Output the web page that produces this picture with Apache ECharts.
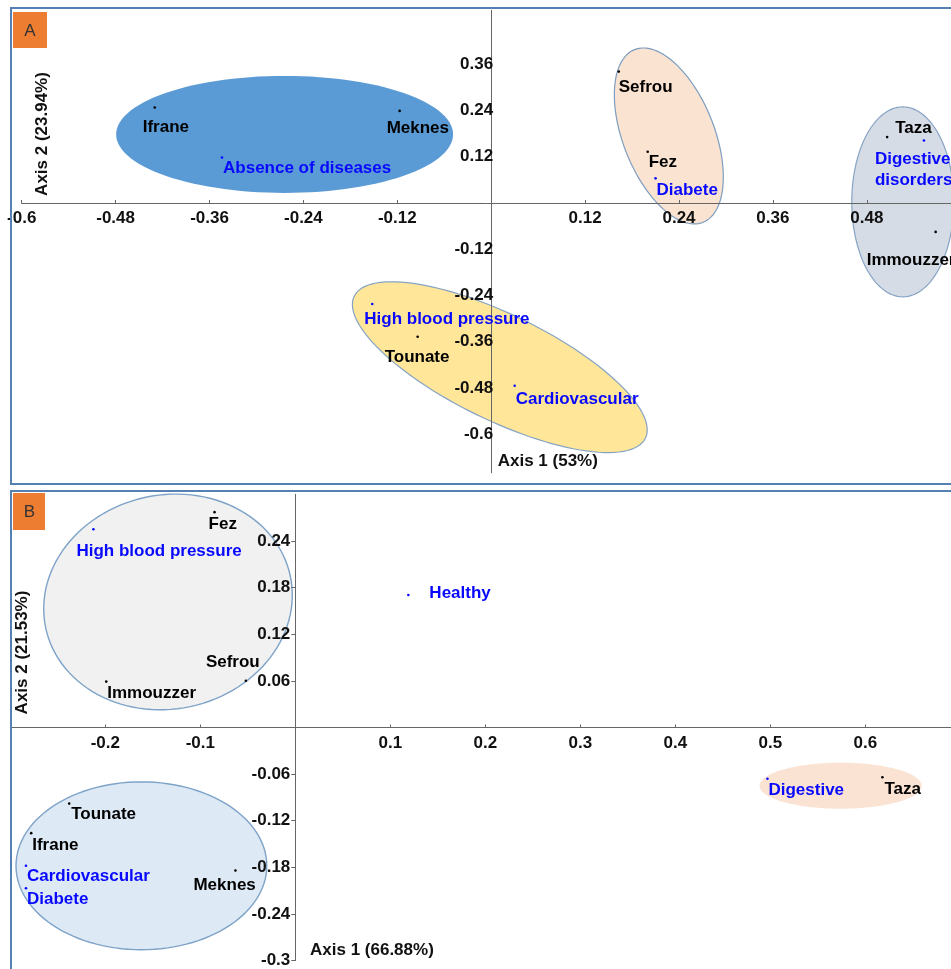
<!DOCTYPE html>
<html>
<head>
<meta charset="utf-8">
<script src="https://cdn.jsdelivr.net/npm/echarts@6/dist/echarts.min.js"></script>
<style>
  html, body { margin: 0; padding: 0; background: #ffffff; }
  #chart { width: 951px; height: 969px; }
</style>
</head>
<body>
<div id="chart"></div>
<script>
// ---------- Panel A : sites and diseases on axes 1 and 2 ----------
const aSiteNames = ['Ifrane', 'Meknes', 'Sefrou', 'Fez', 'Taza', 'Immouzzer', 'Tounate'];
const aSiteAxis1 = [-0.430, -0.117, 0.163, 0.200, 0.506, 0.568, -0.094];
const aSiteAxis2 = [0.248, 0.239, 0.341, 0.133, 0.171, -0.075, -0.347];

const aDiseaseNames = ['Absence of diseases', 'Diabete', 'Digestive\ndisorders', 'High blood pressure', 'Cardiovascular'];
const aDiseaseAxis1 = [-0.344, 0.210, 0.553, -0.152, 0.030];
const aDiseaseAxis2 = [0.118, 0.064, 0.162, -0.262, -0.474];

const aTicksAxis1 = [-0.6, -0.48, -0.36, -0.24, -0.12, 0.12, 0.24, 0.36, 0.48];
const aTicksAxis2 = [-0.6, -0.48, -0.36, -0.24, -0.12, 0.12, 0.24, 0.36];

// groupings: centre, half-extent along axis 1 and axis 2, tilt (degrees)
const aGroupAxis1 = [-0.264, 0.227, 0.526, 0.011];
const aGroupAxis2 = [0.178, 0.174, 0.003, -0.426];
const aGroupRadius1 = [0.2153, 0.0583, 0.0652, 0.207];
const aGroupRadius2 = [0.1518, 0.241, 0.2465, 0.137];
const aGroupTilt = [0, -21.6, 0, 26];

// ---------- Panel B : sites and diseases on axes 1 and 2 ----------
const bSiteNames = ['Fez', 'Sefrou', 'Immouzzer', 'Tounate', 'Ifrane', 'Meknes', 'Taza'];
const bSiteAxis1 = [-0.085, -0.052, -0.199, -0.238, -0.278, -0.063, 0.618];
const bSiteAxis2 = [0.277, 0.060, 0.059, -0.098, -0.136, -0.184, -0.064];

const bDiseaseNames = ['High blood pressure', 'Healthy', 'Cardiovascular', 'Diabete', 'Digestive'];
const bDiseaseAxis1 = [-0.2125, 0.119, -0.2835, -0.2835, 0.497];
const bDiseaseAxis2 = [0.255, 0.1705, -0.178, -0.207, -0.066];

const bTicksAxis1 = [-0.2, -0.1, 0.1, 0.2, 0.3, 0.4, 0.5, 0.6];
const bTicksAxis2 = [-0.3, -0.24, -0.18, -0.12, -0.06, 0.06, 0.12, 0.18, 0.24];

const bGroupAxis1 = [-0.134, -0.162, 0.574];
const bGroupAxis2 = [0.1615, -0.178, -0.075];
const bGroupRadius1 = [0.1316, 0.132, 0.0853];
const bGroupRadius2 = [0.1377, 0.108, 0.0296];
const bGroupTilt = [-12, 0, 0];

// ---------- layout / styling ----------
const FONT = "'Liberation Sans', Arial, sans-serif";
const SITE_COLOR = '#000000';
const DISEASE_COLOR = '#0808ff';
const AXIS_COLOR = '#666666';

// plotting boxes (px) and where the zero lines sit inside them
const gridA = { left: 21.7, top: 10.3, width: 939, height: 462.5 };
const gridB = { left: 10.3, top: 494.3, width: 950, height: 466.3 };
const zeroA = { x: 491.2, y: 203 };
const zeroB = { x: 295.3, y: 727.5 };

// label offsets (px) from each point
const aSiteOffsets = [[-12, 20], [-13, 17], [0, 16], [1, 11], [8, -9], [-69, 28], [-33, 21]];
const aDiseaseOffsets = [[1, 11], [1, 12], [-49, 29], [-8, 15], [1, 14]];
const bSiteOffsets = [[-6, 12], [-40, -19], [1, 12], [2, 11], [1, 12], [-42, 15], [2, 12]];
const bDiseaseOffsets = [[-17, 22], [21, -2], [1, 11], [1, 11], [1, 12]];

const aGroupStyles = [
  { fill: '#5b9bd5', stroke: null, lineWidth: 0 },
  { fill: '#fbe3d2', stroke: '#7d9dc0', lineWidth: 1.2 },
  { fill: '#d6dce6', stroke: '#86a3c4', lineWidth: 1.2 },
  { fill: '#ffe699', stroke: '#86a3c4', lineWidth: 1.2 }
];
const bGroupStyles = [
  { fill: '#f1f1f1', stroke: '#7ea3c8', lineWidth: 1.4 },
  { fill: '#dde9f5', stroke: '#7ea3c8', lineWidth: 1.4 },
  { fill: '#fbe3d3', stroke: null, lineWidth: 0 }
];

function points(names, xs, ys, offsets) {
  return names.map((n, i) => ({
    name: n,
    value: [xs[i], ys[i]],
    label: { offset: offsets[i] }
  }));
}

function groups(xs, ys, r1, r2, tilt) {
  return xs.map((x, i) => [x, ys[i], r1[i], r2[i], tilt[i]]);
}

function ellipseRenderer(styles) {
  return function (params, api) {
    const c = api.coord([api.value(0), api.value(1)]);
    const s = api.size([api.value(2), api.value(3)], [api.value(0), api.value(1)]);
    const rot = api.value(4) * Math.PI / 180;
    const pts = [];
    const n = 120;
    for (let i = 0; i < n; i++) {
      const t = i / n * Math.PI * 2;
      const ex = s[0] * Math.cos(t);
      const ey = s[1] * Math.sin(t);
      pts.push([
        c[0] + ex * Math.cos(rot) - ey * Math.sin(rot),
        c[1] + ex * Math.sin(rot) + ey * Math.cos(rot)
      ]);
    }
    const st = styles[params.dataIndex];
    return {
      type: 'polygon',
      shape: { points: pts },
      style: { fill: st.fill, stroke: st.stroke || 'none', lineWidth: st.lineWidth }
    };
  };
}

const fmt = v => String(Math.round(v * 100) / 100);

const tickLabel = {
  color: '#111111', fontSize: 17, fontWeight: 'bold', fontFamily: FONT, formatter: fmt
};

function pointLabel(color) {
  return {
    show: true,
    position: 'inside',
    align: 'left',
    verticalAlign: 'middle',
    formatter: '{b}',
    color: color,
    textBorderWidth: 0,
    fontSize: 17,
    fontWeight: 'bold',
    fontFamily: FONT,
    lineHeight: 21
  };
}

function scatter(gridIdx, data, color) {
  return {
    type: 'scatter',
    xAxisIndex: gridIdx,
    yAxisIndex: gridIdx,
    data: data,
    symbol: 'circle',
    symbolSize: 2.6,
    itemStyle: { color: color, opacity: 1 },
    label: pointLabel(color),
    z: 10,
    silent: true
  };
}

function titleText(text, x, y, rotated) {
  return {
    type: 'text',
    x: x, y: y,
    rotation: rotated ? Math.PI / 2 : 0,
    z: 50,
    style: {
      text: text,
      fill: '#111111',
      font: 'bold 17px ' + FONT,
      align: rotated ? 'center' : 'left',
      verticalAlign: 'middle',
      textAlign: rotated ? 'center' : 'left',
      textVerticalAlign: 'middle'
    }
  };
}

// horizontal axis drawn through the zero of the vertical one
function xAxisThroughZero(idx, grid, zero, min, max, ticks) {
  return {
    gridIndex: idx, type: 'value', min: min, max: max, z: 5,
    position: 'bottom',
    offset: -(grid.top + grid.height - zero.y),
    axisLine: { onZero: false, lineStyle: { color: AXIS_COLOR, width: 1 } },
    axisTick: { show: true, inside: true, length: 3, customValues: ticks, lineStyle: { color: AXIS_COLOR } },
    axisLabel: Object.assign({ customValues: ticks, margin: 7 }, tickLabel),
    splitLine: { show: false }
  };
}

// vertical axis drawn through the zero of the horizontal one
function yAxisThroughZero(idx, grid, zero, min, max, ticks, showTicks, margin) {
  return {
    gridIndex: idx, type: 'value', min: min, max: max, z: 5,
    position: 'left',
    offset: -(zero.x - grid.left),
    axisLine: { onZero: false, lineStyle: { color: AXIS_COLOR, width: 1 } },
    axisTick: { show: showTicks, length: 4, customValues: ticks, lineStyle: { color: AXIS_COLOR } },
    axisLabel: Object.assign({ customValues: ticks, margin: margin }, tickLabel),
    splitLine: { show: false }
  };
}

const chart = echarts.init(document.getElementById('chart'), null, { renderer: 'canvas' });

chart.setOption({
  animation: false,
  backgroundColor: '#ffffff',
  grid: [
    Object.assign({ outerBoundsMode: 'none' }, gridA),
    Object.assign({ outerBoundsMode: 'none' }, gridB)
  ],
  xAxis: [
    xAxisThroughZero(0, gridA, zeroA, -0.6, 0.6, aTicksAxis1),
    xAxisThroughZero(1, gridB, zeroB, -0.3, 0.7, bTicksAxis1)
  ],
  yAxis: [
    yAxisThroughZero(0, gridA, zeroA, -0.7, 0.5, aTicksAxis2, false, -2),
    yAxisThroughZero(1, gridB, zeroB, -0.3, 0.3, bTicksAxis2, true, 5)
  ],
  series: [
    {
      type: 'custom', xAxisIndex: 0, yAxisIndex: 0, z: 1, silent: true, clip: false,
      renderItem: ellipseRenderer(aGroupStyles),
      data: groups(aGroupAxis1, aGroupAxis2, aGroupRadius1, aGroupRadius2, aGroupTilt)
    },
    {
      type: 'custom', xAxisIndex: 1, yAxisIndex: 1, z: 1, silent: true, clip: false,
      renderItem: ellipseRenderer(bGroupStyles),
      data: groups(bGroupAxis1, bGroupAxis2, bGroupRadius1, bGroupRadius2, bGroupTilt)
    },
    scatter(0, points(aSiteNames, aSiteAxis1, aSiteAxis2, aSiteOffsets), SITE_COLOR),
    scatter(0, points(aDiseaseNames, aDiseaseAxis1, aDiseaseAxis2, aDiseaseOffsets), DISEASE_COLOR),
    scatter(1, points(bSiteNames, bSiteAxis1, bSiteAxis2, bSiteOffsets), SITE_COLOR),
    scatter(1, points(bDiseaseNames, bDiseaseAxis1, bDiseaseAxis2, bDiseaseOffsets), DISEASE_COLOR)
  ],
  graphic: [
    // panel frames
    { type: 'rect', z: 40, silent: true, shape: { x: 11, y: 8, width: 1000, height: 476 },
      style: { fill: 'none', stroke: '#5580b4', lineWidth: 2 } },
    { type: 'rect', z: 40, silent: true, shape: { x: 11, y: 491, width: 1000, height: 520 },
      style: { fill: 'none', stroke: '#5580b4', lineWidth: 2 } },
    // panel tags
    { type: 'rect', z: 45, silent: true, shape: { x: 13, y: 12, width: 34, height: 36 },
      style: { fill: '#ed7d31' } },
    { type: 'text', z: 46, silent: true, x: 30, y: 31,
      style: { text: 'A', fill: '#333333', font: '17px ' + FONT, align: 'center', verticalAlign: 'middle',
               textAlign: 'center', textVerticalAlign: 'middle' } },
    { type: 'rect', z: 45, silent: true, shape: { x: 13, y: 493, width: 32, height: 37 },
      style: { fill: '#ed7d31' } },
    { type: 'text', z: 46, silent: true, x: 29.5, y: 512,
      style: { text: 'B', fill: '#333333', font: '17px ' + FONT, align: 'center', verticalAlign: 'middle',
               textAlign: 'center', textVerticalAlign: 'middle' } },
    // axis titles
    titleText('Axis 2 (23.94%)', 42, 134, true),
    titleText('Axis 1 (53%)', 497.7, 461, false),
    titleText('Axis 2 (21.53%)', 22.7, 652.5, true),
    titleText('Axis 1 (66.88%)', 310, 950, false)
  ]
});
</script>
</body>
</html>
